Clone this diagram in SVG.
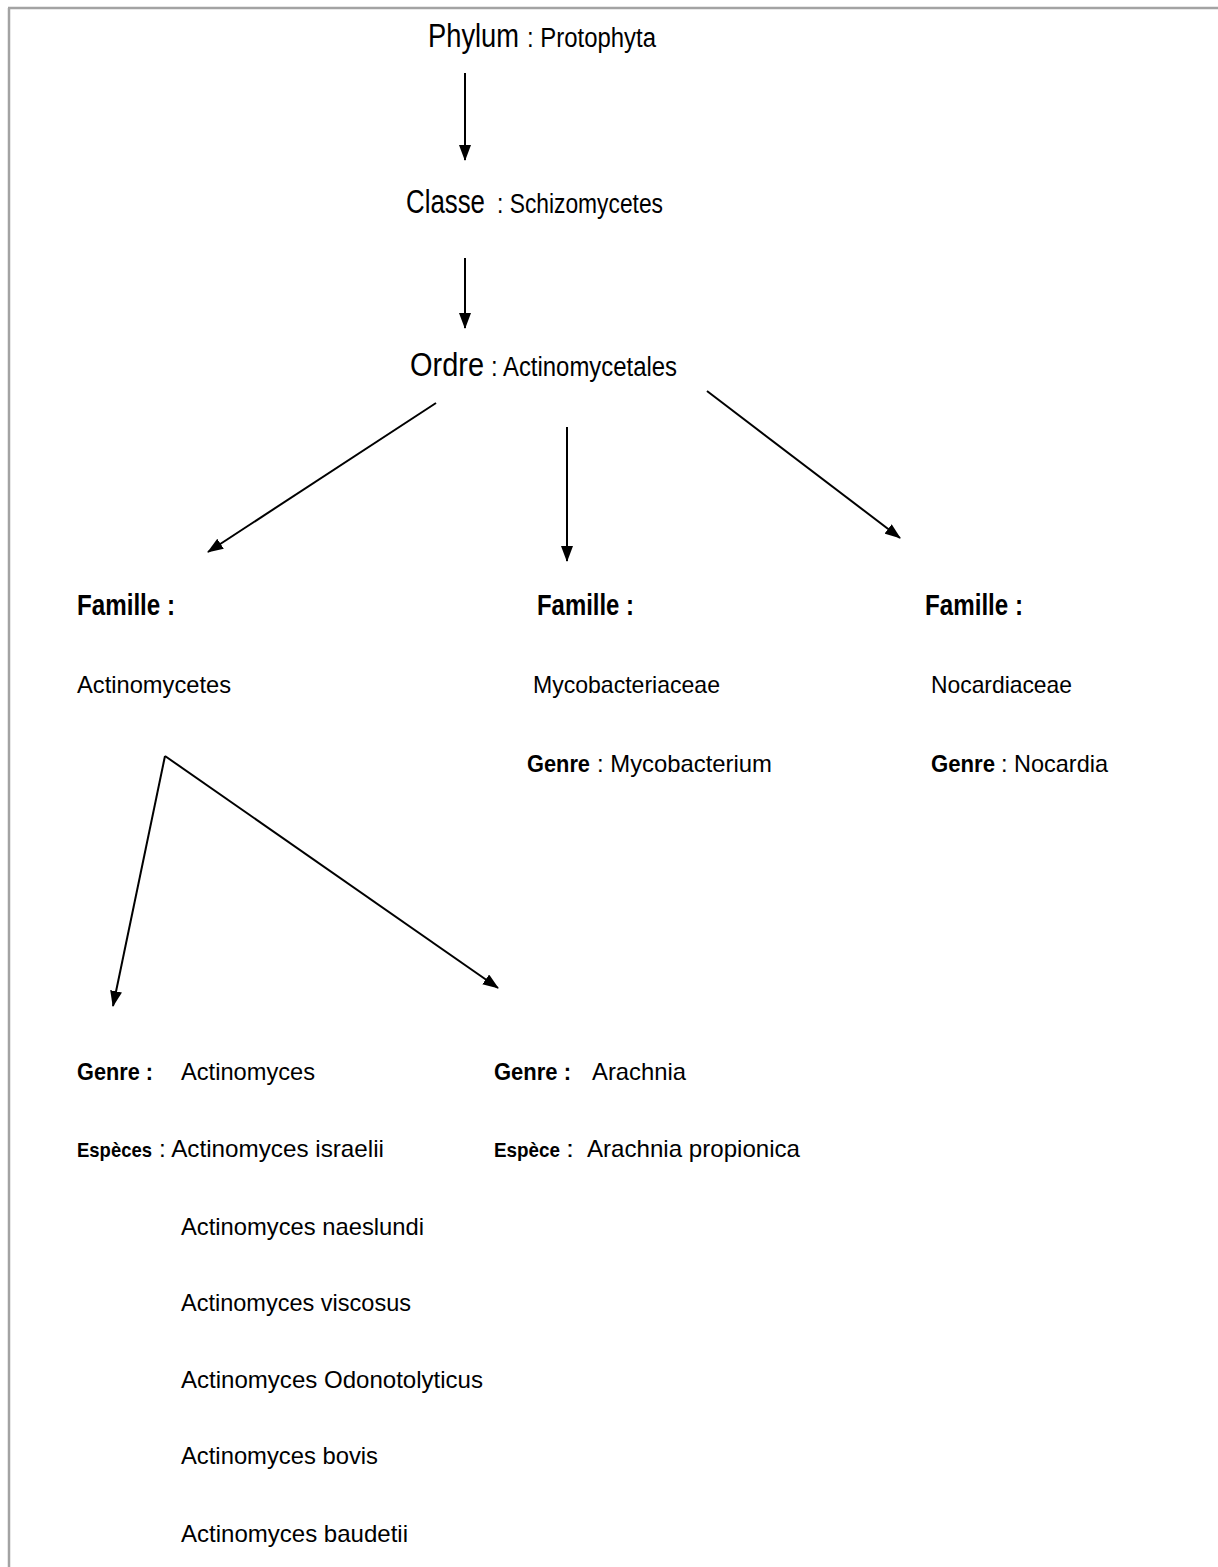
<svg xmlns="http://www.w3.org/2000/svg" width="1218" height="1567" viewBox="0 0 1218 1567">
<style>
text{font-family:"Liberation Sans Narrow","Liberation Sans",Arial,sans-serif;fill:#000}
.b{font-weight:bold}
.lg{font-size:33px}
.md{font-size:27px}
.fa{font-size:29px;font-weight:bold}
.t{font-size:24px}
.s{font-size:21px;font-weight:bold}
.c{stroke:#000;stroke-width:2;fill:none;marker-end:url(#ah)}
</style>
<defs>
<marker id="ah" viewBox="0 0 16 12" refX="15" refY="6" markerWidth="16" markerHeight="12" markerUnits="userSpaceOnUse" orient="auto">
<path d="M0,0 L16,6 L0,12 z" fill="#000"/>
</marker>
</defs>
<rect width="1218" height="1567" fill="#fff"/>
<g id="frame" stroke="#a3a3a3" stroke-width="2.5">
<line x1="8" y1="8" x2="1218" y2="8"/>
<line x1="9" y1="8" x2="9" y2="1567"/>
</g>
<g id="connectors">
<line class="c" x1="465" y1="73" x2="465" y2="160"/>
<line class="c" x1="465" y1="258" x2="465" y2="328"/>
<line class="c" x1="436" y1="403" x2="208" y2="552"/>
<line class="c" x1="567" y1="427" x2="567" y2="561"/>
<line class="c" x1="707" y1="391" x2="900" y2="538"/>
<line class="c" x1="165" y1="756" x2="113" y2="1006"/>
<line class="c" x1="165" y1="756" x2="498" y2="988"/>
</g>
<g id="phylum">
<text y="47"><tspan class="lg" x="428" textLength="91" lengthAdjust="spacingAndGlyphs">Phylum</tspan><tspan class="md" x="527" textLength="129" lengthAdjust="spacingAndGlyphs">: Protophyta</tspan></text>
</g>
<g id="classe">
<text y="213"><tspan class="lg" x="406" textLength="79" lengthAdjust="spacingAndGlyphs">Classe</tspan><tspan class="md" x="497" textLength="166" lengthAdjust="spacingAndGlyphs">: Schizomycetes</tspan></text>
</g>
<g id="ordre">
<text y="376"><tspan class="lg" x="410" textLength="74" lengthAdjust="spacingAndGlyphs">Ordre</tspan><tspan class="md" x="491" textLength="186" lengthAdjust="spacingAndGlyphs">: Actinomycetales</tspan></text>
</g>
<g id="famille-actinomycetes">
<text class="fa" x="77" y="615" textLength="98" lengthAdjust="spacingAndGlyphs">Famille :</text>
<text class="t" x="77" y="693" textLength="154" lengthAdjust="spacingAndGlyphs">Actinomycetes</text>
</g>
<g id="famille-mycobacteriaceae">
<text class="fa" x="537" y="615" textLength="97" lengthAdjust="spacingAndGlyphs">Famille :</text>
<text class="t" x="533" y="693" textLength="187" lengthAdjust="spacingAndGlyphs">Mycobacteriaceae</text>
<text class="t" y="772"><tspan class="b" x="527" textLength="63" lengthAdjust="spacingAndGlyphs">Genre</tspan><tspan x="597" textLength="175" lengthAdjust="spacingAndGlyphs">: Mycobacterium</tspan></text>
</g>
<g id="famille-nocardiaceae">
<text class="fa" x="925" y="615" textLength="98" lengthAdjust="spacingAndGlyphs">Famille :</text>
<text class="t" x="931" y="693" textLength="141" lengthAdjust="spacingAndGlyphs">Nocardiaceae</text>
<text class="t" y="772"><tspan class="b" x="931" textLength="64" lengthAdjust="spacingAndGlyphs">Genre</tspan><tspan x="1001" textLength="107" lengthAdjust="spacingAndGlyphs">: Nocardia</tspan></text>
</g>
<g id="genre-actinomyces">
<text class="t" y="1080"><tspan class="b" x="77" textLength="76" lengthAdjust="spacingAndGlyphs">Genre :</tspan><tspan x="181" textLength="134" lengthAdjust="spacingAndGlyphs">Actinomyces</tspan></text>
<text y="1157"><tspan class="s" x="77" textLength="75" lengthAdjust="spacingAndGlyphs">Espèces</tspan><tspan class="t" x="159" textLength="225" lengthAdjust="spacingAndGlyphs">: Actinomyces israelii</tspan></text>
<text class="t" x="181" y="1235" textLength="243" lengthAdjust="spacingAndGlyphs">Actinomyces naeslundi</text>
<text class="t" x="181" y="1311" textLength="230" lengthAdjust="spacingAndGlyphs">Actinomyces viscosus</text>
<text class="t" x="181" y="1388" textLength="302" lengthAdjust="spacingAndGlyphs">Actinomyces Odonotolyticus</text>
<text class="t" x="181" y="1464" textLength="197" lengthAdjust="spacingAndGlyphs">Actinomyces bovis</text>
<text class="t" x="181" y="1542" textLength="227" lengthAdjust="spacingAndGlyphs">Actinomyces baudetii</text>
</g>
<g id="genre-arachnia">
<text class="t" y="1080"><tspan class="b" x="494" textLength="77" lengthAdjust="spacingAndGlyphs">Genre :</tspan><tspan x="592" textLength="94" lengthAdjust="spacingAndGlyphs">Arachnia</tspan></text>
<text y="1157"><tspan class="s" x="494" textLength="66" lengthAdjust="spacingAndGlyphs">Espèce</tspan><tspan class="t" x="566" textLength="8" lengthAdjust="spacingAndGlyphs">:</tspan><tspan class="t" x="587" textLength="213" lengthAdjust="spacingAndGlyphs">Arachnia propionica</tspan></text>
</g>
</svg>
